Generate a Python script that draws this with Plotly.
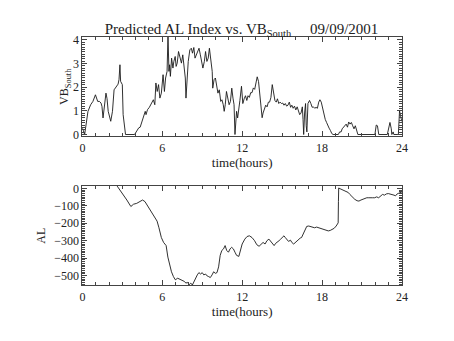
import plotly.graph_objects as go

# Southward IMF component (VB_South) vs. time of day, 2001-09-09
vb_time = [0.00, 0.17, 0.42, 0.62, 0.79, 0.91, 0.98, 1.15, 1.28, 1.40, 1.47, 1.55, 1.64, 1.77, 1.85,
           1.94, 2.13, 2.26, 2.38, 2.53, 2.68, 2.75, 2.82, 2.87, 3.00, 3.06, 3.24, 3.92, 4.23, 4.34,
           4.47, 4.59, 4.72, 4.78, 4.89, 5.03, 5.13, 5.23, 5.33, 5.44, 5.52, 5.62, 5.72, 5.82, 5.93,
           6.06, 6.16, 6.25, 6.36, 6.43, 6.50, 6.55, 6.61, 6.70, 6.80, 6.87, 6.97, 7.04, 7.12, 7.22,
           7.34, 7.44, 7.54, 7.65, 7.73, 7.78, 7.86, 7.95, 8.07, 8.18, 8.27, 8.37, 8.46, 8.56, 8.67,
           8.76, 8.86, 8.96, 9.05, 9.16, 9.25, 9.35, 9.45, 9.54, 9.65, 9.75, 9.79, 9.89, 9.99, 10.09,
           10.18, 10.28, 10.39, 10.48, 10.58, 10.65, 10.73, 10.82, 10.92, 11.02, 11.12, 11.22, 11.31,
           11.39, 11.46, 11.51, 11.58, 11.66, 11.73,
           11.83, 11.95, 12.05, 12.15, 12.25, 12.35, 12.44, 12.54, 12.64, 12.74, 12.84, 12.94, 13.03,
           13.13, 13.23, 13.28, 13.35, 13.43, 13.50, 13.57, 13.67, 13.77, 13.87, 13.97, 14.06, 14.16,
           14.26, 14.36, 14.46, 14.56, 14.65, 14.75, 14.85, 14.95, 15.05, 15.14, 15.24, 15.34, 15.44,
           15.54, 15.64, 15.73, 15.83, 15.93, 16.03, 16.13, 16.22, 16.32, 16.42, 16.52, 16.57, 16.62,
           16.69, 16.76, 16.81, 16.86, 16.94, 17.01, 17.06, 17.16, 17.26, 17.35, 17.45, 17.55, 17.65,
           17.75, 17.84, 17.94, 18.04, 18.14, 18.24, 18.34, 18.43, 18.53, 18.63, 18.73, 18.83, 19.22,
           19.32, 19.43, 19.51, 19.61, 19.71, 19.81, 19.91, 20.00, 20.10, 20.20, 20.30, 20.40, 20.50,
           20.59, 20.69, 21.97, 22.02, 22.07, 22.16, 22.26, 22.90, 23.00, 23.10, 23.20, 23.24, 23.34,
           23.39, 23.73, 23.82, 23.90, 24.00]
vb_south = [0.28, 0.00, 0.98, 1.26, 1.40, 1.54, 1.68, 1.40, 1.40, 1.33, 1.19, 0.70, 1.19, 1.75, 1.52,
            0.98, 0.56, 0.98, 1.89, 2.04, 2.13, 2.32, 2.95, 2.25, 2.11, 0.84, 0.00, 0.00, 0.28, 0.31,
            0.56, 0.70, 0.98, 0.84, 1.05, 1.15, 1.26, 1.33, 1.47, 1.26, 2.18, 1.82, 2.11, 1.54, 1.75,
            2.53, 1.82, 2.39, 2.67, 4.20, 2.67, 2.95, 2.46, 3.23, 2.81, 3.09, 3.30, 2.88, 3.02, 3.51,
            3.23, 3.02, 3.37, 2.81, 2.39, 1.54, 2.53, 3.09, 3.58, 3.65, 3.44, 3.68, 3.23, 3.37, 3.51,
            3.65, 3.37, 2.95, 2.81, 3.09, 3.51, 3.09, 3.23, 3.65, 2.95, 2.67, 1.96, 2.32, 2.39, 1.96,
            1.75, 1.89, 1.40, 1.47, 1.26, 0.98, 1.26, 1.82, 1.54, 1.26, 1.40, 1.96, 1.54,
            1.26, 0.00, 0.70, 0.98, 0.70, 1.12,
            1.44, 2.04, 1.31, 1.51, 1.64, 1.44, 1.64, 1.57, 1.77, 1.77, 1.97, 1.91, 2.17,
            2.44, 2.24, 1.91, 1.44, 1.04, 0.71, 0.91, 1.11, 1.24, 1.17, 1.37, 1.37, 1.57,
            2.11, 1.77, 1.44, 1.37, 1.51, 1.31, 1.37, 1.31, 1.33, 1.24, 1.31, 1.20, 1.24,
            1.37, 1.15, 1.24, 1.11, 1.20, 1.04, 1.17, 0.97, 0.84, 0.91, 1.17, 0.64, 0.00,
            0.91, 1.31, 0.37, 0.11, 1.31, 1.37, 1.44, 1.31, 1.15, 1.17, 1.11, 1.15, 1.11,
            1.37, 1.47, 1.37, 1.11, 0.91, 0.64, 0.51, 0.37, 0.27, 0.17, 0.04, 0.00, 0.00,
            0.11, 0.11, 0.24, 0.31, 0.37, 0.44, 0.31, 0.53, 0.44, 0.51, 0.37, 0.24, 0.37,
            0.17, 0.00, 0.00, 0.37, 0.40, 0.37, 0.00, 0.00, 0.24, 0.51, 0.24, 0.00, 0.11,
            0.00, 0.00, 1.01, 0.77, 0.55]

# Predicted AL index (nT) vs. time of day
al_time = [2.61, 2.85, 3.10, 3.34, 3.64, 3.84, 4.08, 4.33, 4.52, 4.70, 4.94, 5.19, 5.43, 5.61, 5.75,
           5.85, 5.93, 6.10, 6.29, 6.42, 6.54, 6.69, 6.84, 6.98, 7.16, 7.33, 7.52, 7.67, 7.77, 7.89,
           8.02, 8.14, 8.26, 8.38, 8.51, 8.63, 8.75, 8.88, 9.00, 9.12, 9.25, 9.37, 9.49, 9.61, 9.74,
           9.86, 9.98, 10.11, 10.23, 10.35, 10.47, 10.60, 10.72, 10.84, 10.97, 11.09, 11.21, 11.34,
           11.46, 11.58, 11.75, 11.88, 12.00, 12.20, 12.37, 12.54, 12.74, 12.93, 13.10, 13.27, 13.42,
           13.57, 13.72, 13.86, 14.01, 14.16, 14.28, 14.40, 14.52, 14.65, 14.77, 14.89, 15.01, 15.14,
           15.24, 15.36, 15.48, 15.63, 15.73, 15.87, 15.99, 16.12, 16.24, 16.36, 16.46, 16.56, 16.66,
           16.75, 16.85, 17.00, 17.15, 17.29, 17.44, 17.59, 17.74, 17.88, 18.03, 18.18, 18.32, 18.47,
           18.62, 18.76, 18.91, 19.06, 19.16, 19.21, 19.23, 19.25, 19.35, 19.48, 19.60, 19.72, 19.84,
           19.97, 20.09, 20.21, 20.33, 20.46, 20.63, 20.77, 20.92, 21.07, 21.22, 21.36, 21.51, 21.66,
           21.80, 21.95, 22.10, 22.25, 22.39, 22.54, 22.69, 22.83, 22.98, 23.13, 23.27, 23.40, 23.52,
           23.64, 23.76, 23.89, 24.00]
al_index = [13, -11, -39, -67, -104, -91, -86, -76, -67, -76, -104, -132, -160, -188, -226,
            -254, -282, -310, -328, -394, -440, -478, -506, -524, -515, -520, -528, -534, -543, -539,
            -552, -543, -554, -534, -515, -496, -483, -491, -483, -496, -491, -502, -506, -511, -496,
            -478, -487, -483, -450, -384, -356, -347, -328, -356, -366, -347, -338, -347,
            -366, -384, -390, -347, -319, -291, -276, -272, -282, -300, -323, -332, -323,
            -310, -319, -300, -291, -304, -319, -328, -315, -304, -300, -291, -282, -272,
            -282, -297, -304, -297, -310, -319, -310, -304, -297, -285, -282, -263, -254,
            -226, -218, -216, -218, -222, -226, -222, -226, -229, -231, -235, -239, -244,
            -241, -235, -229, -216, -207, -198, -76, 2, -2, -6, -11, -13, -21,
            -24, -35, -45, -58, -63, -71, -73, -67, -62, -58, -54, -54, -52,
            -54, -54, -49, -54, -43, -35, -39, -32, -30, -32, -35, -39, -43,
            -32, -28, -26, -21]

hour_ticks = [0, 6, 12, 18, 24]

FONT = "Liberation Serif"
INK = "#222222"
LINE = "#1a1a1a"

fig = go.Figure()
fig.add_trace(go.Scatter(x=vb_time, y=vb_south, mode="lines",
                         line=dict(color=LINE, width=0.9), xaxis="x", yaxis="y",
                         showlegend=False))
fig.add_trace(go.Scatter(x=al_time, y=al_index, mode="lines",
                         line=dict(color=LINE, width=0.9), xaxis="x2", yaxis="y2",
                         showlegend=False))

common_x = dict(range=[0, 24], tickvals=hour_ticks, ticks="inside", ticklen=5,
                tickcolor="#444", linecolor="#444", linewidth=1, mirror="allticks",
                showgrid=False, zeroline=False,
                minor=dict(dtick=1, ticks="inside", ticklen=3, tickcolor="#444"),
                tickfont=dict(family=FONT, size=12, color=INK),
                title=dict(text="time(hours)", font=dict(family=FONT, size=13, color=INK),
                           standoff=2))
common_y = dict(ticks="inside", ticklen=5, tickcolor="#444", linecolor="#444",
                linewidth=1, mirror="allticks", showgrid=False, zeroline=False,
                tickfont=dict(family=FONT, size=12, color=INK))

fig.update_layout(
    width=454, height=341,
    margin=dict(l=0, r=0, t=0, b=0),
    paper_bgcolor="white", plot_bgcolor="white",
    title=dict(text="Predicted AL Index vs. VB<sub>South</sub>     09/09/2001",
               x=0.532, xanchor="center", y=0.915, yanchor="middle",
               font=dict(family=FONT, size=15, color=INK)),
    xaxis=dict(domain=[0.1784, 0.8965], anchor="y", **common_x),
    yaxis=dict(domain=[0.6012, 0.9003], anchor="x", range=[-0.08, 4.12],
               dtick=1, tick0=0,
               minor=dict(dtick=0.1, ticks="inside", ticklen=3, tickcolor="#444"),
               title=dict(text="VB<sub>South</sub>", font=dict(family=FONT, size=12, color=INK),
                          standoff=1),
               **common_y),
    xaxis2=dict(domain=[0.1784, 0.8965], anchor="y2", **common_x),
    yaxis2=dict(domain=[0.1525, 0.4516], anchor="x2", range=[-556, 13],
                dtick=100, tick0=0,
                minor=dict(dtick=10, ticks="inside", ticklen=3, tickcolor="#444"),
                title=dict(text="AL", font=dict(family=FONT, size=12, color=INK), standoff=6),
                **common_y),
)

fig.write_html("out.html")
